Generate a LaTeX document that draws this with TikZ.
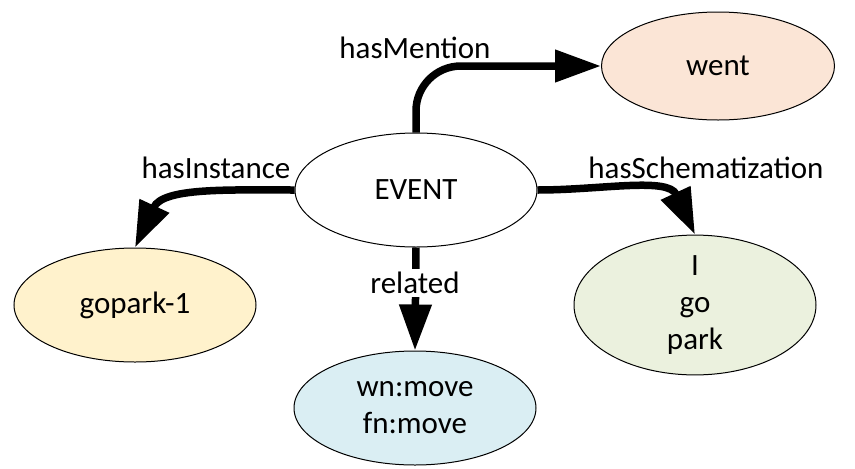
\documentclass[tikz,border=0pt]{standalone}
\usepackage{fontspec}
\setmainfont{Carlito}
\usetikzlibrary{shapes.geometric,arrows.meta}
\definecolor{wentfill}{HTML}{FBE5D6}
\definecolor{goparkfill}{HTML}{FFF2CC}
\definecolor{movefill}{HTML}{DAEEF3}
\definecolor{parkfill}{HTML}{EBF1DE}
\begin{document}
\begin{tikzpicture}[x=1pt,y=-1pt,
    concept/.style={ellipse,draw,line width=1pt,minimum width=242pt,minimum height=114pt,inner sep=0pt,align=center,font=\fontsize{31}{37}\selectfont},
    rel/.style={line width=7.5pt,-{Triangle[length=46pt,width=31pt]}},
    lbl/.style={font=\fontsize{31}{37}\selectfont}]
    \fill[white] (0,0) rectangle (855,469);
    \useasboundingbox (0,0) rectangle (855,469);
    % concepts
    \node[concept] (event) at (416,190) {EVENT};
    \node[concept,fill=wentfill,minimum width=233pt,minimum height=108pt] (went) at (718,66) {went};
    \node[concept,fill=goparkfill] (gopark) at (135,305) {gopark-1};
    \node[concept,fill=movefill] (move) at (415,408) {wn:move\\fn:move};
    \node[concept,fill=parkfill] (park) at (695,305) {I\\go\\park};
    % relations
    \draw[rel,rounded corners=45pt] (event.north) |- (went.west);
    \draw[rel] (event.west) to[out=180,in=65] (gopark.north);
    \draw[rel] (event.east) to[out=0,in=115] (park.north);
    \draw[rel] (event.south) -- (move.north);
    \node[lbl,fill=white,inner sep=3pt] (lrelated) at (415,283) {related};
    \node[lbl] (lmention) at (415,48) {hasMention};
    \node[lbl] (linstance) at (216,168) {hasInstance};
    \node[lbl] (lschema) at (706,168) {hasSchematization};
\end{tikzpicture}
\end{document}
